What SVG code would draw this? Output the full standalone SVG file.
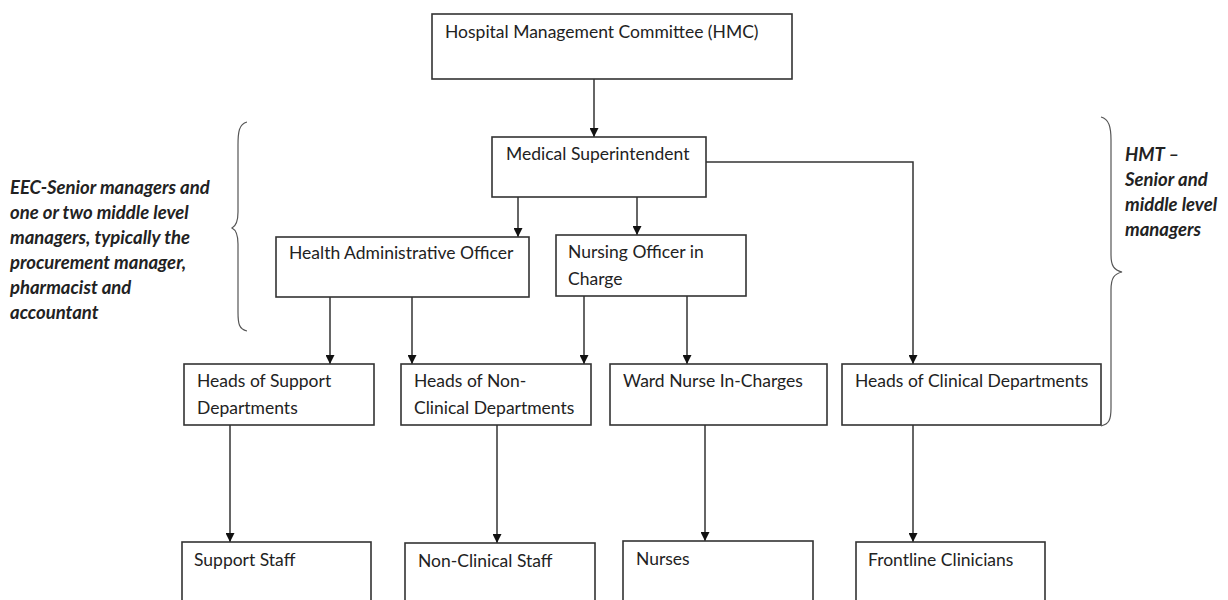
<svg xmlns="http://www.w3.org/2000/svg" width="1228" height="600" viewBox="0 0 1228 600">
<defs>
<marker id="arr" viewBox="0 0 10 10" refX="10" refY="5" markerWidth="9" markerHeight="9" markerUnits="userSpaceOnUse" orient="auto">
<path d="M0,0 L10,5 L0,10 Z" fill="#111"/>
</marker>
<style>
.box{fill:#fff;stroke:#333;stroke-width:1.6}
.lbl{font-family:Lato,"Open Sans",sans-serif;font-size:17.5px;fill:#222}
.note{font-family:Lato,"Open Sans",sans-serif;font-size:18.5px;font-weight:bold;font-style:italic;fill:#222}
.con{fill:none;stroke:#333;stroke-width:1.5;marker-end:url(#arr)}
.brace{fill:none;stroke:#555;stroke-width:1.2}
</style>
</defs>
<rect width="1228" height="600" fill="#fff"/>

<g id="connectors">
<path class="con" d="M594,79 V137"/>
<path class="con" d="M518,197 V237"/>
<path class="con" d="M637,197 V235"/>
<path class="con" d="M706,162 H913 V364"/>
<path class="con" d="M330,297 V364"/>
<path class="con" d="M412,297 V364"/>
<path class="con" d="M584,296 V364"/>
<path class="con" d="M687,296 V364"/>
<path class="con" d="M230,425 V542"/>
<path class="con" d="M497,425 V543"/>
<path class="con" d="M705,425 V541"/>
<path class="con" d="M913,425 V542"/>
</g>

<g id="hmc"><rect class="box" x="432" y="14" width="360" height="65"/><text class="lbl" x="445" y="38">Hospital Management Committee (HMC)</text></g>
<g id="ms"><rect class="box" x="492" y="137" width="214" height="60"/><text class="lbl" x="506" y="160">Medical Superintendent</text></g>
<g id="hao"><rect class="box" x="276" y="237" width="253" height="60"/><text class="lbl" x="289" y="259">Health Administrative Officer</text></g>
<g id="noic"><rect class="box" x="556" y="235" width="190" height="61"/><text class="lbl" x="568" y="258">Nursing Officer in</text><text class="lbl" x="568" y="285">Charge</text></g>
<g id="hos"><rect class="box" x="184" y="364" width="190" height="61"/><text class="lbl" x="197" y="387">Heads of Support</text><text class="lbl" x="197" y="414">Departments</text></g>
<g id="honc"><rect class="box" x="401" y="364" width="190" height="61"/><text class="lbl" x="414" y="387">Heads of Non-</text><text class="lbl" x="414" y="414">Clinical Departments</text></g>
<g id="wnic"><rect class="box" x="610" y="364" width="217" height="61"/><text class="lbl" x="623" y="387">Ward Nurse In-Charges</text></g>
<g id="hocd"><rect class="box" x="842" y="364" width="259" height="61"/><text class="lbl" x="855" y="387">Heads of Clinical Departments</text></g>
<g id="ss"><rect class="box" x="182" y="542" width="189" height="80"/><text class="lbl" x="194" y="566">Support Staff</text></g>
<g id="ncs"><rect class="box" x="405" y="543" width="190" height="80"/><text class="lbl" x="418" y="567">Non-Clinical Staff</text></g>
<g id="nurses"><rect class="box" x="623" y="541" width="190" height="80"/><text class="lbl" x="636" y="565">Nurses</text></g>
<g id="fc"><rect class="box" x="856" y="542" width="189" height="80"/><text class="lbl" x="868" y="566">Frontline Clinicians</text></g>

<g id="eec">
<path class="brace" d="M247,122 C239,124 238,132 238,145 V212 C238,222 236,226 232,228 C236,230 238,234 238,244 V312 C238,324 239,329 247,331"/>
<text class="note" x="10" y="194">EEC-Senior managers and</text>
<text class="note" x="10" y="219">one or two middle level</text>
<text class="note" x="10" y="244">managers, typically the</text>
<text class="note" x="10" y="269">procurement manager,</text>
<text class="note" x="10" y="294">pharmacist and</text>
<text class="note" x="10" y="319">accountant</text>
</g>

<g id="hmt">
<path class="brace" d="M1101,117 C1109,119 1111,127 1111,140 V255 C1111,266 1114,270 1122,272 C1114,274 1111,278 1111,290 V408 C1111,420 1109,424 1101,426"/>
<text class="note" x="1125" y="161">HMT –</text>
<text class="note" x="1125" y="186">Senior and</text>
<text class="note" x="1125" y="211">middle level</text>
<text class="note" x="1125" y="236">managers</text>
</g>
</svg>
